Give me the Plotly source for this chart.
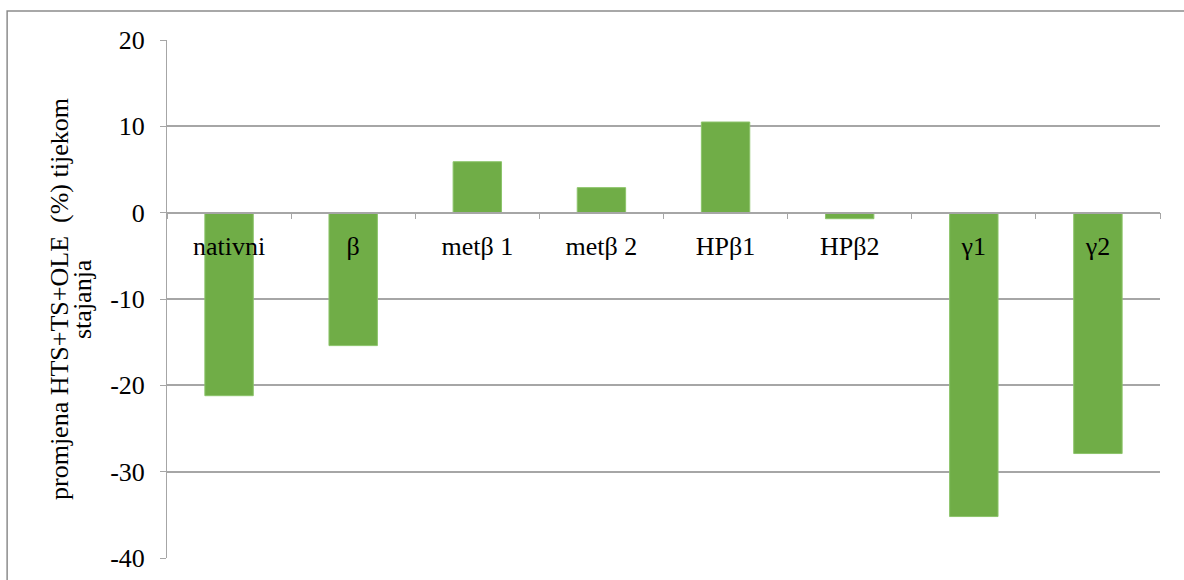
import plotly.graph_objects as go

categories = ["nativni", "β", "metβ 1", "metβ 2", "HPβ1", "HPβ2", "γ1", "γ2"]
values = [-21.2, -15.4, 5.9, 2.9, 10.5, -0.7, -35.2, -27.9]
y_title_lines = ["promjena HTS+TS+OLE  (%) tijekom", "stajanja"]
y_ticks = [-40, -30, -20, -10, 0, 10, 20]
y_ticktext = ["-40", "-30", "-20", "-10", "0", "10", "20"]
y_min, y_max = -40, 20

FONT = "Liberation Serif"

fig = go.Figure(go.Bar(
    x=categories, y=values,
    marker=dict(color="#70AD47", line=dict(color="#8CC46A", width=1)),
    width=0.39,
))

zero_pos = (0 - y_min) / (y_max - y_min)

fig.update_layout(
    width=1184, height=580,
    margin=dict(l=167, r=24, t=40, b=22, autoexpand=False),
    paper_bgcolor="white", plot_bgcolor="white",
    font=dict(family=FONT, size=26, color="black"),
    showlegend=False,
    xaxis=dict(
        type="category", automargin=False,
        anchor="free", position=zero_pos,
        showline=True, linecolor="#A6A6A6", linewidth=1.5,
        ticks="outside", tickson="boundaries", ticklen=6, tickcolor="#A6A6A6",
        ticklabelstandoff=10,
        showgrid=False,
        tickfont=dict(family=FONT, size=26),
    ),
    yaxis=dict(
        range=[y_min, y_max], tickvals=y_ticks, ticktext=y_ticktext,
        automargin=False,
        showgrid=True, gridcolor="#A6A6A6", gridwidth=1.5,
        zeroline=False,
        showline=True, linecolor="#A6A6A6", linewidth=1,
        ticks="outside", ticklen=6, tickcolor="#A6A6A6",
        ticklabelstandoff=10,
        tickfont=dict(family=FONT, size=26),
    ),
)

# y-axis title as two tightly spaced rotated lines
for i, line in enumerate(y_title_lines):
    fig.add_annotation(
        text=line, textangle=-90, showarrow=False,
        xref="paper", yref="paper",
        x=(59 + 23 * i - 167) / 993, y=0.5,
        xanchor="center", yanchor="middle",
        font=dict(family=FONT, size=26, color="black"),
    )

fig.add_shape(type="rect", xref="paper", yref="paper",
              x0=-0.161, x1=1.06, y0=-0.1, y1=1.056,
              line=dict(color="#8C8C8C", width=1.5), fillcolor="rgba(0,0,0,0)", layer="below")

fig.write_html("out.html", config={"displayModeBar": False},
               post_script="document.body.style.margin='0';document.body.style.overflow='hidden';")
